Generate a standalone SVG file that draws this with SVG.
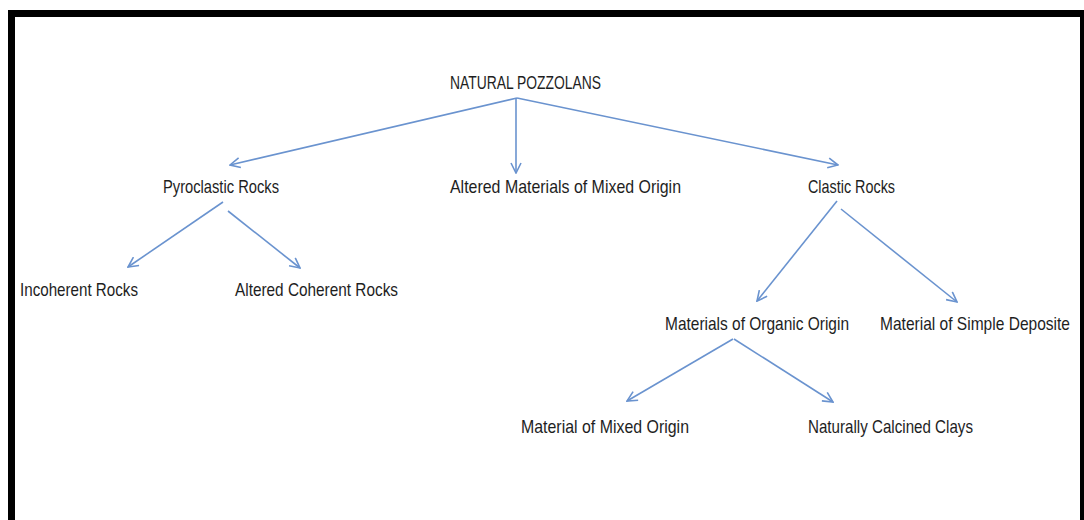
<svg xmlns="http://www.w3.org/2000/svg" width="1084" height="520" viewBox="0 0 1084 520">
<style>
text{font-family:"Liberation Sans",Arial,sans-serif;font-size:19px;fill:#1e1e1e}
.c{stroke:#6a93cf;stroke-width:1.6;fill:none}
</style>
<defs>
<marker id="a" viewBox="0 0 12 12" refX="11" refY="6" markerWidth="12" markerHeight="12" markerUnits="userSpaceOnUse" orient="auto">
<path d="M1,1 L11,6 L1,11" fill="none" stroke="#6a93cf" stroke-width="1.6"/>
</marker>
</defs>
<rect x="0" y="0" width="1084" height="520" fill="#fff"/>
<rect x="11.5" y="13.5" width="1072" height="520" fill="none" stroke="#000" stroke-width="7"/>
<g id="connectors">
<line class="c" x1="517" y1="98" x2="230" y2="165" marker-end="url(#a)"/>
<line class="c" x1="516" y1="98" x2="516" y2="173" marker-end="url(#a)"/>
<line class="c" x1="517" y1="98" x2="838" y2="165" marker-end="url(#a)"/>
<line class="c" x1="223" y1="202" x2="128" y2="267" marker-end="url(#a)"/>
<line class="c" x1="228" y1="211" x2="300" y2="268" marker-end="url(#a)"/>
<line class="c" x1="837" y1="201" x2="757" y2="301" marker-end="url(#a)"/>
<line class="c" x1="841" y1="209" x2="957" y2="302" marker-end="url(#a)"/>
<line class="c" x1="733" y1="339" x2="627" y2="401" marker-end="url(#a)"/>
<line class="c" x1="734" y1="339" x2="833" y2="402" marker-end="url(#a)"/>
</g>
<g id="n-root"><text x="450" y="89" textLength="151" lengthAdjust="spacingAndGlyphs">NATURAL POZZOLANS</text></g>
<g id="n-pyro"><text x="163" y="193" textLength="116" lengthAdjust="spacingAndGlyphs">Pyroclastic Rocks</text></g>
<g id="n-altered"><text x="450" y="193" textLength="231" lengthAdjust="spacingAndGlyphs">Altered Materials of Mixed Origin</text></g>
<g id="n-clastic"><text x="808" y="193" textLength="87" lengthAdjust="spacingAndGlyphs">Clastic Rocks</text></g>
<g id="n-incoherent"><text x="20" y="296" textLength="118" lengthAdjust="spacingAndGlyphs">Incoherent Rocks</text></g>
<g id="n-coherent"><text x="235" y="296" textLength="163" lengthAdjust="spacingAndGlyphs">Altered Coherent Rocks</text></g>
<g id="n-organic"><text x="665" y="330" textLength="184" lengthAdjust="spacingAndGlyphs">Materials of Organic Origin</text></g>
<g id="n-simple"><text x="880" y="330" textLength="190" lengthAdjust="spacingAndGlyphs">Material of Simple Deposite</text></g>
<g id="n-mixed"><text x="521" y="433" textLength="168" lengthAdjust="spacingAndGlyphs">Material of Mixed Origin</text></g>
<g id="n-calcined"><text x="808" y="433" textLength="165" lengthAdjust="spacingAndGlyphs">Naturally Calcined Clays</text></g>
</svg>
